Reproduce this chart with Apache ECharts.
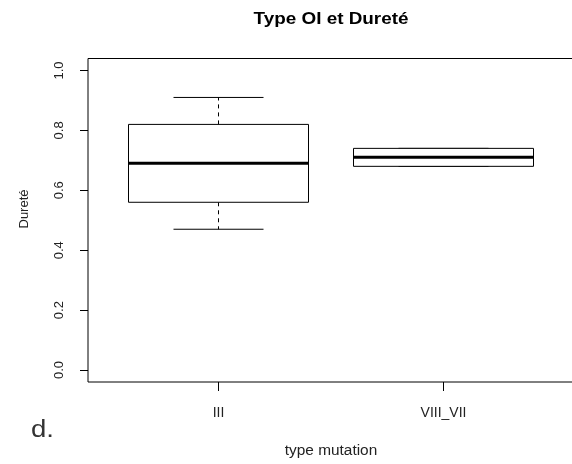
<!DOCTYPE html>
<html>
<head>
<meta charset="utf-8">
<script src="https://cdn.jsdelivr.net/npm/echarts@6/dist/echarts.min.js"></script>
<style>
html,body{margin:0;padding:0;background:#fff;}
#chart{width:572px;height:464px;}
</style>
</head>
<body>
<div id="chart"></div>
<script>
// ---- data ----
var categories = ['III', 'VIII_VII'];
var positions = [1, 2];
var whiskerLow = [0.47, 0.68];
var q1 = [0.56, 0.68];
var medians = [0.69, 0.71];
var q3 = [0.82, 0.74];
var whiskerHigh = [0.91, 0.74];
var yTicks = [0, 0.2, 0.4, 0.6, 0.8, 1.0];
var yTickLabels = ['0.0', '0.2', '0.4', '0.6', '0.8', '1.0'];
var titleText = 'Type OI et Dureté';
var xName = 'type mutation';
var yName = 'Dureté';
var panelTag = 'd.';

var FONT = 'Liberation Sans, Arial, sans-serif';

var boxData = positions.map(function (p, i) {
  return [p, whiskerLow[i], q1[i], medians[i], q3[i], whiskerHigh[i]];
});

function renderBox(params, api) {
  var x = api.value(0);
  var pMin = api.coord([x, api.value(1)]);
  var pQ1 = api.coord([x, api.value(2)]);
  var pMed = api.coord([x, api.value(3)]);
  var pQ3 = api.coord([x, api.value(4)]);
  var pMax = api.coord([x, api.value(5)]);
  var halfW = api.size([0.4, 0])[0];
  var capW = halfW / 2;
  var cx = pMed[0];
  var children = [];
  var dash = {stroke: '#000', lineWidth: 1, lineDash: [4, 4]};
  var solid = {stroke: '#000', lineWidth: 1};
  if (Math.abs(pMax[1] - pQ3[1]) > 0.5) {
    children.push({type: 'line', shape: {x1: cx, y1: pQ3[1], x2: cx, y2: pMax[1]}, style: dash});
  }
  if (Math.abs(pMin[1] - pQ1[1]) > 0.5) {
    children.push({type: 'line', shape: {x1: cx, y1: pQ1[1], x2: cx, y2: pMin[1]}, style: dash});
  }
  children.push({type: 'line', shape: {x1: cx - capW, y1: pMax[1], x2: cx + capW, y2: pMax[1]}, style: solid});
  children.push({type: 'line', shape: {x1: cx - capW, y1: pMin[1], x2: cx + capW, y2: pMin[1]}, style: solid});
  children.push({type: 'rect', shape: {x: cx - halfW, y: pQ3[1], width: 2 * halfW, height: pQ1[1] - pQ3[1]},
    style: {fill: '#fff', stroke: '#000', lineWidth: 1}});
  children.push({type: 'line', shape: {x1: cx - halfW, y1: pMed[1], x2: cx + halfW, y2: pMed[1]},
    style: {stroke: '#000', lineWidth: 3}});
  return {type: 'group', children: children};
}

var chart = echarts.init(document.getElementById('chart'), null, {renderer: 'canvas'});
chart.setOption({
  animation: false,
  backgroundColor: '#fff',
  grid: {
    left: 88, top: 58.5, right: -2, bottom: 82,
    outerBoundsMode: 'none', containLabel: false,
    show: true, borderColor: '#000', borderWidth: 1, backgroundColor: 'transparent'
  },
  xAxis: {
    type: 'value', min: 0.42, max: 2.58,
    axisLine: {show: false, onZero: false},
    splitLine: {show: false},
    axisTick: {show: true, customValues: positions, length: 9, lineStyle: {color: '#000'}},
    axisLabel: {
      customValues: positions,
      formatter: function (v) { return categories[Math.round(v) - 1]; },
      fontFamily: FONT, fontSize: 14, color: '#222', margin: 24
    }
  },
  yAxis: {
    type: 'value', min: -0.04, max: 1.04,
    axisLine: {show: false, onZero: false},
    splitLine: {show: false},
    axisTick: {show: true, customValues: yTicks, length: 8, lineStyle: {color: '#000'}},
    axisLabel: {
      customValues: yTicks,
      formatter: function (v) {
        var i = yTicks.findIndex(function (t) { return Math.abs(t - v) < 1e-6; });
        return i >= 0 ? yTickLabels[i] : '';
      },
      rotate: 90, fontFamily: FONT, fontSize: 13, color: '#222', margin: 22
    }
  },
  graphic: [
    {type: 'text', x: 331, y: 20, scaleX: 1.18,
      style: {text: titleText, font: 'bold 16px ' + FONT, fill: '#000', textAlign: 'center', textVerticalAlign: 'middle'}},
    {type: 'text', x: 331, y: 451, scaleX: 1.1,
      style: {text: xName, font: '14px ' + FONT, fill: '#222', textAlign: 'center', textVerticalAlign: 'middle'}},
    {type: 'text', x: 24, y: 209, rotation: Math.PI / 2,
      style: {text: yName, font: '13px ' + FONT, fill: '#222', textAlign: 'center', textVerticalAlign: 'middle'}},
    {type: 'text', x: 31, y: 431, scaleX: 1.2,
      style: {text: panelTag, font: '23px ' + FONT, fill: '#333', textAlign: 'left', textVerticalAlign: 'middle'}}
  ],
  series: [{
    type: 'custom',
    data: boxData,
    encode: {x: 0, y: [1, 2, 3, 4, 5]},
    renderItem: renderBox,
    clip: false
  }]
});
</script>
</body>
</html>
